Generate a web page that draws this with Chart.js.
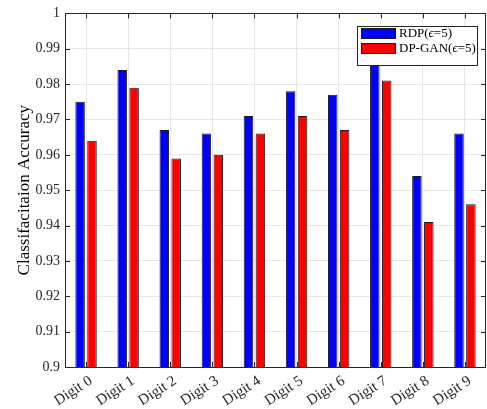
<!DOCTYPE html>
<html>
<head>
<meta charset="utf-8">
<script src="https://cdn.jsdelivr.net/npm/chart.js@4/dist/chart.umd.min.js"></script>
<style>
  html, body { margin: 0; padding: 0; background: #fff; }
  #wrap { width: 487px; height: 409px; }
</style>
</head>
<body>
<div id="wrap"><canvas id="myChart"></canvas></div>
<script>
const digits = ["Digit 0", "Digit 1", "Digit 2", "Digit 3", "Digit 4",
                "Digit 5", "Digit 6", "Digit 7", "Digit 8", "Digit 9"];
const rdpAcc = [0.975, 0.984, 0.967, 0.966, 0.971, 0.978, 0.977, 0.986, 0.954, 0.966];
const dpganAcc = [0.964, 0.979, 0.959, 0.960, 0.966, 0.971, 0.967, 0.981, 0.941, 0.946];
const seriesNames = ["RDP(ϵ=5)", "DP-GAN(ϵ=5)"];

const SERIF = "'Liberation Serif', 'Times New Roman', 'DejaVu Serif', serif";
const INK = "#262626";

// MATLAB-style box with inward ticks, plus legend box
const frame = {
  id: "frame",
  afterDraw(chart) {
    const { ctx, chartArea: a, scales } = chart;
    ctx.save();
    ctx.strokeStyle = INK;
    ctx.lineWidth = 1;
    ctx.beginPath();
    scales.y.ticks.forEach((t) => {
      const y = Math.round(scales.y.getPixelForValue(t.value)) + 0.5;
      ctx.moveTo(a.left, y); ctx.lineTo(a.left + 5, y);
      ctx.moveTo(a.right, y); ctx.lineTo(a.right - 5, y);
    });
    scales.x.ticks.forEach((t, i) => {
      const x = Math.round(scales.x.getPixelForValue(i)) + 0.5;
      ctx.moveTo(x, a.bottom); ctx.lineTo(x, a.bottom - 5);
      ctx.moveTo(x, a.top); ctx.lineTo(x, a.top + 5);
    });
    ctx.stroke();
    ctx.strokeRect(Math.round(a.left) + 0.5, Math.round(a.top) + 0.5,
                   Math.round(a.right - a.left) - 1, Math.round(a.bottom - a.top));

    // legend
    const bw = 120, bh = 39;
    const bx = Math.round(a.right) - 9 - bw, by = Math.round(a.top) + 13;
    ctx.fillStyle = "#fff";
    ctx.fillRect(bx, by, bw, bh);
    ctx.strokeRect(bx + 0.5, by + 0.5, bw, bh);
    chart.data.datasets.forEach((ds, i) => {
      const sy = by + 2 + i * 15;
      ctx.fillStyle = ds.backgroundColor;
      ctx.fillRect(bx + 4, sy, 35, 11);
      ctx.strokeStyle = "#1a1a1a";
      ctx.strokeRect(bx + 4.5, sy + 0.5, 34, 10);
      let tx = bx + 42;
      const ty = sy + 6;
      ctx.fillStyle = "#000";
      ctx.textBaseline = "middle";
      ctx.textAlign = "left";
      const parts = ds.label.split("ϵ");
      ctx.font = "13px " + SERIF;
      ctx.fillText(parts[0], tx, ty);
      tx += ctx.measureText(parts[0]).width;
      ctx.font = "italic 13px " + SERIF;
      ctx.fillText("ϵ", tx, ty);
      tx += ctx.measureText("ϵ").width;
      ctx.font = "13px " + SERIF;
      ctx.fillText(parts[1], tx, ty);
    });
    ctx.restore();
  },
};

new Chart("myChart", {
  type: "bar",
  data: {
    labels: digits,
    datasets: [
      {
        label: seriesNames[0],
        data: rdpAcc,
        backgroundColor: "#0000ff",
        borderColor: "#1a1a1a",
        borderWidth: 1,
      },
      {
        label: seriesNames[1],
        data: dpganAcc,
        backgroundColor: "#ff0000",
        borderColor: "#1a1a1a",
        borderWidth: 1,
      },
    ],
  },
  options: {
    animation: false,
    responsive: true,
    maintainAspectRatio: false,
    categoryPercentage: 0.565,
    barPercentage: 0.8,
    layout: { padding: { top: 9, right: 1 } },
    plugins: {
      legend: { display: false },
      tooltip: { enabled: false },
    },
    scales: {
      x: {
        offset: true,
        grid: { offset: false, color: "#e6e6e6", drawTicks: false },
        border: { display: false },
        ticks: {
          maxRotation: 33,
          minRotation: 33,
          padding: 5,
          labelOffset: 5,
          color: INK,
          font: { family: SERIF, size: 15 },
        },
        afterFit(scale) { scale.height = 42; },
      },
      y: {
        min: 0.9,
        max: 1,
        grid: { color: "#e6e6e6", drawTicks: false },
        border: { display: false },
        ticks: {
          stepSize: 0.01,
          padding: 5,
          color: INK,
          font: { family: SERIF, size: 14 },
          callback: (v) => String(Number(v.toFixed(2))),
        },
        title: {
          display: true,
          text: "Classifacitaion Accuracy",
          color: "#000",
          padding: { top: 14, bottom: 0 },
          font: { family: SERIF, size: 17 },
        },
        afterFit(scale) { scale.width = 65; },
      },
    },
  },
  plugins: [frame],
});
</script>
</body>
</html>
